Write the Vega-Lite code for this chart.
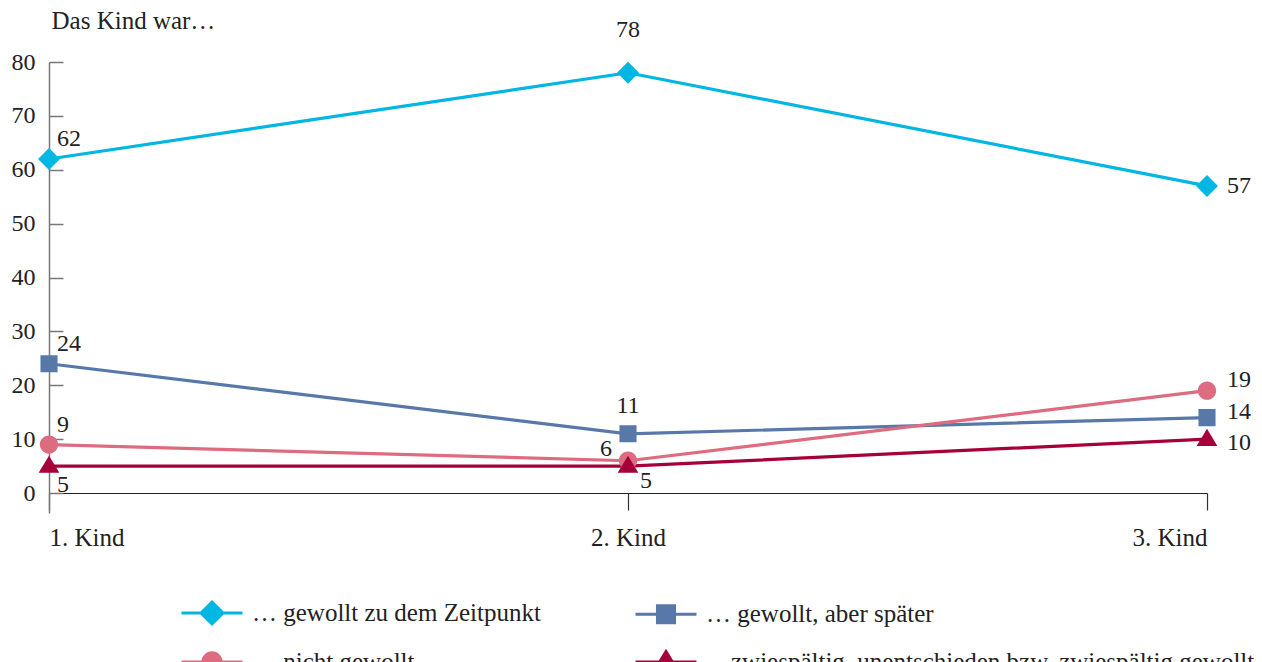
{
  "$schema": "https://vega.github.io/schema/vega-lite/v6.json",
  "width": 1158,
  "height": 451,
  "autosize": {"type": "none"},
  "padding": {"left": 49, "top": 62, "right": 55, "bottom": 149},
  "background": "white",
  "config": {"font": "Liberation Serif", "view": {"stroke": null}},
  "data": {
    "values": [
      {"kind": "1. Kind", "category": "… gewollt zu dem Zeitpunkt", "value": 62},
      {"kind": "1. Kind", "category": "… gewollt, aber später", "value": 24},
      {"kind": "1. Kind", "category": "… nicht gewollt", "value": 9},
      {"kind": "1. Kind", "category": "…zwiespältig, unentschieden bzw. zwiespältig gewollt", "value": 5},
      {"kind": "2. Kind", "category": "… gewollt zu dem Zeitpunkt", "value": 78},
      {"kind": "2. Kind", "category": "… gewollt, aber später", "value": 11},
      {"kind": "2. Kind", "category": "… nicht gewollt", "value": 6},
      {"kind": "2. Kind", "category": "…zwiespältig, unentschieden bzw. zwiespältig gewollt", "value": 5},
      {"kind": "3. Kind", "category": "… gewollt zu dem Zeitpunkt", "value": 57},
      {"kind": "3. Kind", "category": "… gewollt, aber später", "value": 14},
      {"kind": "3. Kind", "category": "… nicht gewollt", "value": 19},
      {"kind": "3. Kind", "category": "…zwiespältig, unentschieden bzw. zwiespältig gewollt", "value": 10}
    ]
  },
  "encoding": {
    "x": {
      "field": "kind", "type": "ordinal", "sort": null,
      "scale": {"type": "point", "padding": 0},
      "axis": {
        "title": null, "offset": -20, "domainColor": "#222", "domainWidth": 1.2,
        "tickColor": "#333", "tickSize": 17, "tickWidth": 1.2,
        "labelFont": "Liberation Serif", "labelFontSize": 25, "labelColor": "#222",
        "labelPadding": 15, "labelAngle": 0, "labelFlush": true, "grid": false
      }
    },
    "y": {
      "field": "value", "type": "quantitative",
      "scale": {"domain": [-3.7, 80], "nice": false, "zero": false},
      "axis": {
        "values": [0, 10, 20, 30, 40, 50, 60, 70, 80],
        "title": "Das Kind war…", "titleAngle": 0, "titleAlign": "left", "titleBaseline": "alphabetic",
        "titleX": 2, "titleY": -34, "titleFont": "Liberation Serif", "titleFontSize": 25,
        "titleFontWeight": "normal", "titleColor": "#222",
        "domainColor": "#777", "domainWidth": 1.5, "tickColor": "#777", "tickSize": -14, "tickWidth": 1.5,
        "labelFont": "Liberation Serif", "labelFontSize": 24, "labelColor": "#222", "labelPadding": 28, "grid": false
      }
    }
  },
  "layer": [
    {
      "mark": {"type": "line", "strokeWidth": 3.2},
      "encoding": {
        "color": {
          "field": "category", "type": "nominal",
          "scale": {
            "domain": ["… gewollt zu dem Zeitpunkt", "… nicht gewollt", "… gewollt, aber später", "…zwiespältig, unentschieden bzw. zwiespältig gewollt"],
            "range": ["#00B6E2", "#DE6C80", "#5878AA", "#A6003A"]
          }
        }
      }
    },
    {
      "mark": {"type": "point", "filled": true, "opacity": 1, "size": 3721, "strokeWidth": 0},
      "encoding": {
        "color": {
          "field": "category", "type": "nominal",
          "scale": {
            "domain": ["… gewollt zu dem Zeitpunkt", "… nicht gewollt", "… gewollt, aber später", "…zwiespältig, unentschieden bzw. zwiespältig gewollt"],
            "range": ["#00B6E2", "#DE6C80", "#5878AA", "#A6003A"]
          },
          "legend": {
            "title": null, "orient": "none", "legendX": 131, "legendY": 519,
            "columns": 2, "columnPadding": 88, "rowPadding": -30,
            "symbolSize": 3721, "symbolStrokeWidth": 3, "symbolOpacity": 1,
            "labelFont": "Liberation Serif", "labelFontSize": 25, "labelColor": "#222",
            "labelOffset": 8, "labelLimit": 0
          }
        },
        "stroke": {
          "field": "category", "type": "nominal",
          "scale": {
            "domain": ["… gewollt zu dem Zeitpunkt", "… nicht gewollt", "… gewollt, aber später", "…zwiespältig, unentschieden bzw. zwiespältig gewollt"],
            "range": ["#00B6E2", "#DE6C80", "#5878AA", "#A6003A"]
          }
        },
        "shape": {
          "field": "category", "type": "nominal",
          "scale": {
            "domain": ["… gewollt zu dem Zeitpunkt", "… nicht gewollt", "… gewollt, aber später", "…zwiespältig, unentschieden bzw. zwiespältig gewollt"],
            "range": [
              "M-1,0L1,0M-0.36,0L0,-0.36L0.36,0L0,0.36Z",
              "M-1,0L1,0M-0.3,0A0.3,0.3,0,1,1,0.3,0A0.3,0.3,0,1,1,-0.3,0Z",
              "M-1,0L1,0M-0.28,-0.28L0.28,-0.28L0.28,0.28L-0.28,0.28Z",
              "M-1,0L1,0M0,-0.34L0.34,0.22L-0.34,0.22Z"
            ]
          }
        }
      }
    },
    {
      "transform": [{"filter": "datum.kind == '1. Kind' && indexof(datum.category, 'zwiesp') < 0"}],
      "mark": {"type": "text", "align": "left", "baseline": "middle", "dx": 8, "dy": -20, "fontSize": 24, "font": "Liberation Serif", "color": "#222"},
      "encoding": {"text": {"field": "value", "type": "quantitative"}}
    },
    {
      "transform": [{"filter": "datum.kind == '1. Kind' && indexof(datum.category, 'zwiesp') >= 0"}],
      "mark": {"type": "text", "align": "left", "baseline": "middle", "dx": 8, "dy": 19, "fontSize": 24, "font": "Liberation Serif", "color": "#222"},
      "encoding": {"text": {"field": "value", "type": "quantitative"}}
    },
    {
      "transform": [{"filter": "datum.kind == '2. Kind' && indexof(datum.category, 'Zeitpunkt') >= 0"}],
      "mark": {"type": "text", "align": "center", "baseline": "middle", "dy": -43, "fontSize": 24, "font": "Liberation Serif", "color": "#222"},
      "encoding": {"text": {"field": "value", "type": "quantitative"}}
    },
    {
      "transform": [{"filter": "datum.kind == '2. Kind' && indexof(datum.category, 'später') >= 0"}],
      "mark": {"type": "text", "align": "center", "baseline": "middle", "dy": -28, "fontSize": 24, "font": "Liberation Serif", "color": "#222"},
      "encoding": {"text": {"field": "value", "type": "quantitative"}}
    },
    {
      "transform": [{"filter": "datum.kind == '2. Kind' && indexof(datum.category, 'nicht') >= 0"}],
      "mark": {"type": "text", "align": "right", "baseline": "middle", "dx": -16, "dy": -12, "fontSize": 24, "font": "Liberation Serif", "color": "#222"},
      "encoding": {"text": {"field": "value", "type": "quantitative"}}
    },
    {
      "transform": [{"filter": "datum.kind == '2. Kind' && indexof(datum.category, 'zwiesp') >= 0"}],
      "mark": {"type": "text", "align": "left", "baseline": "middle", "dx": 12, "dy": 15, "fontSize": 24, "font": "Liberation Serif", "color": "#222"},
      "encoding": {"text": {"field": "value", "type": "quantitative"}}
    },
    {
      "transform": [{"filter": "datum.kind == '3. Kind' && indexof(datum.category, 'Zeitpunkt') >= 0"}],
      "mark": {"type": "text", "align": "left", "baseline": "middle", "dx": 20, "dy": 0, "fontSize": 24, "font": "Liberation Serif", "color": "#222"},
      "encoding": {"text": {"field": "value", "type": "quantitative"}}
    },
    {
      "transform": [{"filter": "datum.kind == '3. Kind' && indexof(datum.category, 'nicht') >= 0"}],
      "mark": {"type": "text", "align": "left", "baseline": "middle", "dx": 20, "dy": -11, "fontSize": 24, "font": "Liberation Serif", "color": "#222"},
      "encoding": {"text": {"field": "value", "type": "quantitative"}}
    },
    {
      "transform": [{"filter": "datum.kind == '3. Kind' && indexof(datum.category, 'später') >= 0"}],
      "mark": {"type": "text", "align": "left", "baseline": "middle", "dx": 20, "dy": -6, "fontSize": 24, "font": "Liberation Serif", "color": "#222"},
      "encoding": {"text": {"field": "value", "type": "quantitative"}}
    },
    {
      "transform": [{"filter": "datum.kind == '3. Kind' && indexof(datum.category, 'zwiesp') >= 0"}],
      "mark": {"type": "text", "align": "left", "baseline": "middle", "dx": 20, "dy": 4, "fontSize": 24, "font": "Liberation Serif", "color": "#222"},
      "encoding": {"text": {"field": "value", "type": "quantitative"}}
    }
  ]
}
